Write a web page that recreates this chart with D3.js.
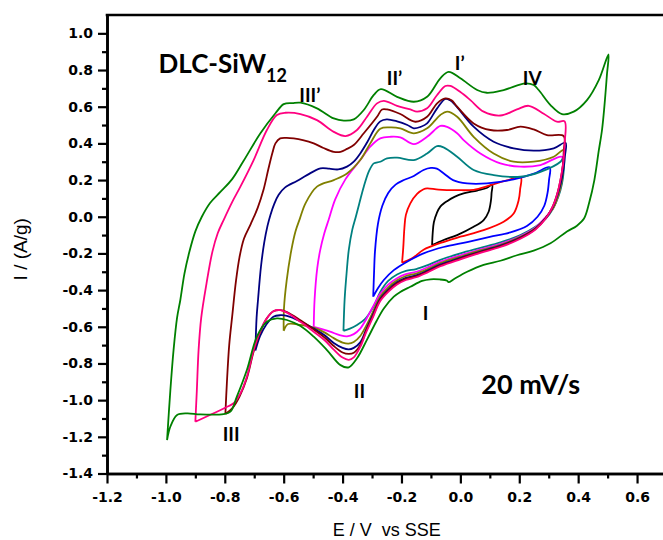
<!DOCTYPE html>
<html>
<head>
<meta charset="utf-8">
<script src="https://cdn.jsdelivr.net/npm/d3@7"></script>
<style>
  html, body { margin: 0; padding: 0; background: #fff; }
  svg { display: block; }
</style>
</head>
<body>
<svg id="chart" width="663" height="540"></svg>
<script>
// Cyclic voltammograms of DLC-SiW12 at 20 mV/s, one loop per potential window.
// Each loop: [E (V vs SSE), I (A/g)] — anodic sweep from the negative vertex,
// then the cathodic sweep back to it.
const cvBlack = [[-0.096,-0.154],[-0.094,-0.09],[-0.09,-0.03],[-0.08,0.02],[-0.068,0.055],[-0.045,0.085],[-0.02,0.108],[0.011,0.127],[0.057,0.143],[0.091,0.158],[0.108,0.175],
  [0.106,0.13],[0.104,0.09],[0.096,0.027],[0.079,-0.018],[0.045,-0.055],[-0.011,-0.10],[-0.057,-0.127],[-0.096,-0.154]];

const cvRed = [[-0.198,-0.251],[-0.194,-0.17],[-0.19,-0.06],[-0.185,0.01],[-0.170,0.073],[-0.147,0.125],[-0.125,0.15],[-0.113,0.155],[-0.074,0.148],[-0.011,0.145],[0.045,0.147],[0.102,0.172],[0.158,0.198],[0.205,0.215],
  [0.203,0.15],[0.198,0.091],[0.181,0.018],[0.147,-0.027],[0.079,-0.073],[0.0,-0.109],[-0.068,-0.143],[-0.125,-0.18],[-0.164,-0.227],[-0.187,-0.243],[-0.198,-0.251]];

const cvBlue = [[-0.296,-0.436],[-0.293,-0.30],[-0.290,-0.19],[-0.280,-0.04],[-0.265,0.06],[-0.245,0.13],[-0.220,0.175],[-0.192,0.20],[-0.158,0.222],[-0.125,0.255],[-0.100,0.266],[-0.080,0.262],[-0.055,0.235],[-0.025,0.20],[0.023,0.182],[0.09,0.182],[0.181,0.204],[0.25,0.235],[0.303,0.27],
  [0.301,0.20],[0.296,0.13],[0.285,0.06],[0.262,0.0],[0.226,-0.05],[0.17,-0.085],[0.10,-0.11],[0.023,-0.138],[-0.057,-0.165],[-0.125,-0.2],[-0.181,-0.245],[-0.226,-0.291],[-0.260,-0.345],[-0.280,-0.39],[-0.296,-0.436]];

const cvTeal = [[-0.397,-0.622],[-0.393,-0.45],[-0.386,-0.30],[-0.379,-0.182],[-0.367,-0.07],[-0.355,0.0],[-0.342,0.08],[-0.328,0.164],[-0.310,0.25],[-0.294,0.291],[-0.272,0.30],[-0.249,0.318],[-0.215,0.322],[-0.158,0.309],[-0.113,0.345],[-0.079,0.385],[-0.057,0.378],[-0.011,0.327],[0.045,0.255],[0.113,0.227],[0.204,0.218],[0.272,0.245],[0.34,0.30],[0.352,0.33],
  [0.351,0.25],[0.345,0.18],[0.333,0.11],[0.315,0.045],[0.29,-0.01],[0.255,-0.055],[0.204,-0.10],[0.136,-0.14],[0.068,-0.17],[0.0,-0.20],[-0.068,-0.235],[-0.113,-0.265],[-0.150,-0.285],[-0.185,-0.295],[-0.215,-0.315],[-0.245,-0.35],[-0.272,-0.41],[-0.295,-0.49],[-0.325,-0.56],[-0.351,-0.59],[-0.375,-0.61],[-0.397,-0.622]];

const cvMagenta = [[-0.498,-0.60],[-0.495,-0.45],[-0.486,-0.28],[-0.476,-0.182],[-0.462,-0.09],[-0.447,-0.015],[-0.425,0.095],[-0.390,0.205],[-0.340,0.309],[-0.306,0.382],[-0.272,0.427],[-0.238,0.436],[-0.204,0.433],[-0.158,0.396],[-0.113,0.436],[-0.068,0.495],[-0.045,0.49],[-0.011,0.455],[0.011,0.418],[0.068,0.345],[0.136,0.291],[0.204,0.273],[0.272,0.282],[0.345,0.327],
  [0.347,0.26],[0.343,0.19],[0.333,0.12],[0.316,0.05],[0.29,-0.002],[0.255,-0.058],[0.204,-0.105],[0.136,-0.148],[0.068,-0.178],[0.0,-0.21],[-0.068,-0.245],[-0.113,-0.277],[-0.150,-0.30],[-0.185,-0.313],[-0.215,-0.335],[-0.245,-0.37],[-0.272,-0.42],[-0.300,-0.50],[-0.320,-0.56],[-0.340,-0.61],[-0.362,-0.64],[-0.385,-0.652],[-0.41,-0.645],[-0.44,-0.628],[-0.47,-0.613],[-0.498,-0.60]];

const cvOlive = [[-0.600,-0.622],[-0.599,-0.5],[-0.59,-0.35],[-0.574,-0.182],[-0.560,-0.08],[-0.545,-0.01],[-0.526,0.073],[-0.487,0.164],[-0.430,0.2],[-0.385,0.236],[-0.340,0.309],[-0.306,0.40],[-0.272,0.48],[-0.238,0.487],[-0.204,0.482],[-0.158,0.455],[-0.113,0.482],[-0.068,0.555],[-0.045,0.573],[-0.011,0.545],[0.045,0.436],[0.113,0.345],[0.181,0.30],[0.249,0.30],[0.317,0.327],[0.351,0.364],
  [0.350,0.28],[0.345,0.20],[0.335,0.13],[0.318,0.055],[0.29,-0.005],[0.255,-0.062],[0.204,-0.11],[0.136,-0.153],[0.068,-0.184],[0.0,-0.218],[-0.068,-0.253],[-0.113,-0.287],[-0.150,-0.31],[-0.185,-0.323],[-0.215,-0.347],[-0.245,-0.385],[-0.272,-0.435],[-0.300,-0.53],[-0.320,-0.595],[-0.340,-0.65],[-0.362,-0.683],[-0.380,-0.692],[-0.40,-0.686],[-0.43,-0.662],[-0.46,-0.632],[-0.498,-0.605],[-0.543,-0.59],[-0.585,-0.585],[-0.600,-0.622]];

const cvNavy = [[-0.696,-0.73],[-0.692,-0.55],[-0.687,-0.45],[-0.677,-0.27],[-0.666,-0.14],[-0.655,-0.05],[-0.645,0.01],[-0.632,0.07],[-0.617,0.12],[-0.595,0.16],[-0.555,0.195],[-0.521,0.227],[-0.475,0.264],[-0.445,0.262],[-0.415,0.258],[-0.385,0.273],[-0.362,0.30],[-0.340,0.345],[-0.315,0.41],[-0.294,0.473],[-0.272,0.52],[-0.250,0.531],[-0.215,0.52],[-0.180,0.50],[-0.158,0.482],[-0.135,0.49],[-0.113,0.509],[-0.079,0.591],[-0.051,0.642],[-0.035,0.635],[-0.017,0.609],[0.045,0.491],[0.113,0.409],[0.181,0.373],[0.249,0.36],[0.317,0.373],[0.357,0.404],
  [0.355,0.33],[0.350,0.26],[0.342,0.19],[0.330,0.12],[0.313,0.05],[0.29,-0.007],[0.255,-0.065],[0.204,-0.113],[0.136,-0.158],[0.068,-0.19],[0.0,-0.224],[-0.068,-0.261],[-0.113,-0.295],[-0.150,-0.32],[-0.185,-0.333],[-0.215,-0.357],[-0.245,-0.397],[-0.272,-0.447],[-0.300,-0.545],[-0.320,-0.615],[-0.340,-0.685],[-0.362,-0.715],[-0.379,-0.723],[-0.40,-0.715],[-0.43,-0.688],[-0.46,-0.648],[-0.498,-0.61],[-0.543,-0.57],[-0.589,-0.54],[-0.611,-0.537],[-0.635,-0.545],[-0.660,-0.59],[-0.680,-0.65],[-0.696,-0.73]];

const cvMaroon = [[-0.798,-1.076],[-0.793,-0.909],[-0.785,-0.70],[-0.775,-0.545],[-0.762,-0.35],[-0.750,-0.22],[-0.735,-0.12],[-0.712,-0.04],[-0.688,0.05],[-0.668,0.15],[-0.652,0.26],[-0.638,0.35],[-0.628,0.40],[-0.612,0.427],[-0.590,0.43],[-0.566,0.427],[-0.535,0.418],[-0.498,0.40],[-0.465,0.375],[-0.430,0.354],[-0.407,0.354],[-0.385,0.37],[-0.362,0.391],[-0.328,0.455],[-0.283,0.545],[-0.266,0.585],[-0.249,0.585],[-0.204,0.56],[-0.153,0.518],[-0.113,0.545],[-0.079,0.618],[-0.051,0.645],[-0.030,0.635],[-0.011,0.60],[0.045,0.509],[0.102,0.473],[0.158,0.473],[0.204,0.491],[0.249,0.476],[0.294,0.445],[0.351,0.44],
  [0.351,0.36],[0.348,0.28],[0.340,0.20],[0.328,0.12],[0.312,0.05],[0.29,-0.008],[0.255,-0.067],[0.204,-0.116],[0.136,-0.161],[0.068,-0.193],[0.0,-0.228],[-0.068,-0.266],[-0.113,-0.30],[-0.150,-0.325],[-0.185,-0.339],[-0.215,-0.363],[-0.245,-0.403],[-0.272,-0.453],[-0.300,-0.553],[-0.320,-0.622],[-0.340,-0.70],[-0.362,-0.742],[-0.379,-0.748],[-0.40,-0.74],[-0.43,-0.705],[-0.46,-0.66],[-0.498,-0.615],[-0.543,-0.565],[-0.589,-0.52],[-0.611,-0.509],[-0.635,-0.515],[-0.660,-0.56],[-0.680,-0.63],[-0.702,-0.735],[-0.725,-0.88],[-0.750,-0.98],[-0.775,-1.045],[-0.798,-1.076]];

const cvPink = [[-0.9,-1.118],[-0.895,-0.95],[-0.889,-0.727],[-0.880,-0.55],[-0.862,-0.363],[-0.842,-0.19],[-0.824,-0.09],[-0.804,-0.018],[-0.775,0.08],[-0.747,0.164],[-0.702,0.309],[-0.657,0.473],[-0.623,0.555],[-0.594,0.567],[-0.543,0.560],[-0.487,0.527],[-0.430,0.463],[-0.390,0.440],[-0.351,0.473],[-0.317,0.545],[-0.283,0.618],[-0.260,0.632],[-0.215,0.605],[-0.170,0.585],[-0.147,0.573],[-0.113,0.591],[-0.079,0.664],[-0.051,0.713],[-0.034,0.713],[0.0,0.68],[0.034,0.636],[0.079,0.573],[0.136,0.552],[0.192,0.585],[0.232,0.605],[0.283,0.562],[0.328,0.518],[0.354,0.52],
  [0.354,0.40],[0.350,0.30],[0.342,0.22],[0.330,0.13],[0.315,0.06],[0.290,-0.01],[0.255,-0.07],[0.204,-0.12],[0.136,-0.165],[0.068,-0.197],[0.0,-0.232],[-0.068,-0.27],[-0.113,-0.305],[-0.150,-0.33],[-0.185,-0.345],[-0.215,-0.37],[-0.245,-0.41],[-0.272,-0.46],[-0.300,-0.56],[-0.320,-0.63],[-0.340,-0.71],[-0.362,-0.767],[-0.379,-0.78],[-0.40,-0.768],[-0.43,-0.725],[-0.46,-0.675],[-0.498,-0.627],[-0.543,-0.573],[-0.589,-0.523],[-0.611,-0.509],[-0.635,-0.515],[-0.660,-0.56],[-0.680,-0.625],[-0.702,-0.727],[-0.725,-0.872],[-0.747,-0.963],[-0.770,-1.017],[-0.792,-1.036],[-0.9,-1.118]];

const cvGreen = [[-0.996,-1.218],[-0.985,-0.95],[-0.974,-0.727],[-0.962,-0.55],[-0.951,-0.454],[-0.937,-0.31],[-0.920,-0.19],[-0.900,-0.08],[-0.878,0.0],[-0.850,0.075],[-0.815,0.135],[-0.775,0.205],[-0.736,0.305],[-0.679,0.455],[-0.628,0.564],[-0.600,0.614],[-0.570,0.62],[-0.543,0.622],[-0.487,0.591],[-0.430,0.536],[-0.396,0.524],[-0.362,0.531],[-0.328,0.582],[-0.294,0.664],[-0.270,0.696],[-0.215,0.654],[-0.158,0.627],[-0.113,0.654],[-0.068,0.755],[-0.040,0.79],[0.0,0.755],[0.057,0.691],[0.090,0.676],[0.147,0.691],[0.221,0.727],[0.249,0.718],[0.266,0.691],[0.306,0.609],[0.345,0.560],[0.385,0.573],[0.430,0.636],[0.470,0.745],[0.503,0.885],
  [0.498,0.78],[0.489,0.60],[0.481,0.473],[0.470,0.36],[0.455,0.2],[0.438,0.08],[0.420,-0.01],[0.395,-0.05],[0.362,-0.08],[0.306,-0.145],[0.249,-0.185],[0.192,-0.21],[0.136,-0.24],[0.079,-0.262],[0.023,-0.30],[-0.020,-0.338],[-0.040,-0.357],[-0.045,-0.349],[-0.07,-0.342],[-0.102,-0.341],[-0.130,-0.35],[-0.170,-0.382],[-0.204,-0.41],[-0.226,-0.436],[-0.260,-0.50],[-0.285,-0.57],[-0.317,-0.67],[-0.351,-0.772],[-0.379,-0.821],[-0.407,-0.809],[-0.453,-0.727],[-0.498,-0.654],[-0.543,-0.596],[-0.589,-0.563],[-0.623,-0.554],[-0.657,-0.573],[-0.691,-0.654],[-0.725,-0.836],[-0.759,-0.981],[-0.781,-1.063],[-0.804,-1.076],[-0.883,-1.078],[-0.928,-1.072],[-0.962,-1.081],[-0.985,-1.145],[-0.996,-1.218]];

// Drawing order and stroke colour for each loop
const loops = [
  { data: cvBlack,   color: "#000000" },
  { data: cvRed,     color: "#ff0000" },
  { data: cvBlue,    color: "#0000ff" },
  { data: cvTeal,    color: "#008080" },
  { data: cvMagenta, color: "#ff00ff" },
  { data: cvOlive,   color: "#808000" },
  { data: cvNavy,    color: "#000080" },
  { data: cvMaroon,  color: "#800000" },
  { data: cvPink,    color: "#ff0080" },
  { data: cvGreen,   color: "#008000" }
];

// Axis ticks
const xMajorTicks = [-1.2, -1.0, -0.8, -0.6, -0.4, -0.2, 0.0, 0.2, 0.4, 0.6];
const xMinorTicks = [-1.1, -0.9, -0.7, -0.5, -0.3, -0.1, 0.1, 0.3, 0.5];
const yMajorTicks = [-1.4, -1.2, -1.0, -0.8, -0.6, -0.4, -0.2, 0.0, 0.2, 0.4, 0.6, 0.8, 1.0];
const yMinorTicks = [-1.3, -1.1, -0.9, -0.7, -0.5, -0.3, -0.1, 0.1, 0.3, 0.5, 0.7, 0.9];

// Peak labels anchored in data coordinates (E, I)
const peakLabels = [
  { text: "III\u2019", E: -0.547, I: 0.625 },
  { text: "II\u2019",  E: -0.250, I: 0.718 },
  { text: "I\u2019",   E: -0.019, I: 0.800 },
  { text: "IV",        E: 0.212,  I: 0.718 },
  { text: "I",         E: -0.128, I: -0.563 },
  { text: "II",        E: -0.362, I: -0.988 },
  { text: "III",       E: -0.807, I: -1.223 }
];

const svg = d3.select("#chart");
const x = d3.scaleLinear().domain([-1.2, 0.7]).range([107, 666.5]);
const y = d3.scaleLinear().domain([-1.4, 1.1]).range([473.5, 15]);

const tickFont = "DejaVu Sans";
const fmt = d => d.toFixed(1);

// Curves
const line = d3.line()
  .x(d => x(d[0]))
  .y(d => y(d[1]))
  .curve(d3.curveCatmullRom.alpha(0.5));

svg.append("g")
  .selectAll("path")
  .data(loops)
  .join("path")
  .attr("d", d => line(d.data))
  .attr("fill", "none")
  .attr("stroke", d => d.color)
  .attr("stroke-width", 1.8)
  .attr("stroke-linejoin", "round");

// Frame (top edge and right edge)
svg.append("line")
  .attr("x1", x(-1.2) - 1.3).attr("x2", x(0.7))
  .attr("y1", y(1.1)).attr("y2", y(1.1))
  .attr("stroke", "#000").attr("stroke-width", 2.6);
svg.append("line")
  .attr("x1", x(0.7)).attr("x2", x(0.7))
  .attr("y1", y(1.1)).attr("y2", y(-1.4))
  .attr("stroke", "#000").attr("stroke-width", 2.6);

function styleAxis(g) {
  g.attr("font-family", tickFont).attr("font-size", 14).attr("font-weight", "bold");
  g.selectAll(".domain").attr("stroke", "#000").attr("stroke-width", 2.6);
  g.selectAll(".tick line").attr("stroke", "#000").attr("stroke-width", 2.2);
  g.selectAll(".tick text").attr("fill", "#000")
    .style("font-family", tickFont).style("font-size", "14px").style("font-weight", "bold");
}

// Bottom axis: minor and major ticks in separate groups
svg.append("g")
  .attr("transform", `translate(0,${y(-1.4)})`)
  .call(d3.axisBottom(x).tickValues(xMinorTicks).tickSize(5).tickSizeOuter(0).tickFormat(""))
  .call(styleAxis);
svg.append("g")
  .attr("transform", `translate(0,${y(-1.4)})`)
  .call(d3.axisBottom(x).tickValues(xMajorTicks).tickSize(10).tickSizeOuter(0).tickPadding(8.5).tickFormat(fmt))
  .call(styleAxis);

// Left axis
svg.append("g")
  .attr("transform", `translate(${x(-1.2)},0)`)
  .call(d3.axisLeft(y).tickValues(yMinorTicks).tickSize(5).tickSizeOuter(0).tickFormat(""))
  .call(styleAxis);
svg.append("g")
  .attr("transform", `translate(${x(-1.2)},0)`)
  .call(d3.axisLeft(y).tickValues(yMajorTicks).tickSize(9).tickSizeOuter(0).tickPadding(5).tickFormat(fmt))
  .call(styleAxis);

// Axis titles
svg.append("text")
  .attr("x", (x(-1.2) + x(0.7)) / 2)
  .attr("y", 536)
  .attr("text-anchor", "middle")
  .attr("font-family", "Liberation Sans")
  .attr("font-size", 18)
  .attr("xml:space", "preserve")
  .style("white-space", "pre")
  .text("E / V  vs SSE");

svg.append("text")
  .attr("transform", `translate(27,${(y(1.1) + y(-1.4)) / 2 + 5}) rotate(-90)`)
  .attr("text-anchor", "middle")
  .attr("font-family", "Liberation Sans")
  .attr("font-size", 19)
  .text("I / (A/g)");

// Annotations
const annoFont = "Lato";
const title = svg.append("text")
  .attr("x", x(-1.025)).attr("y", y(0.784))
  .attr("font-family", annoFont)
  .attr("font-weight", "bold")
  .attr("font-size", 26);
title.append("tspan").text("DLC-SiW");
title.append("tspan").attr("dy", 9).attr("font-size", 18).text("12");

svg.append("text")
  .attr("x", x(0.071)).attr("y", y(-0.967))
  .attr("font-family", annoFont)
  .attr("font-weight", "bold")
  .attr("font-size", 27)
  .text("20 mV/s");

svg.append("g")
  .selectAll("text")
  .data(peakLabels)
  .join("text")
  .attr("x", d => x(d.E))
  .attr("y", d => y(d.I))
  .attr("font-family", annoFont)
  .attr("font-weight", "bold")
  .attr("font-size", 19)
  .text(d => d.text);
</script>
</body>
</html>
